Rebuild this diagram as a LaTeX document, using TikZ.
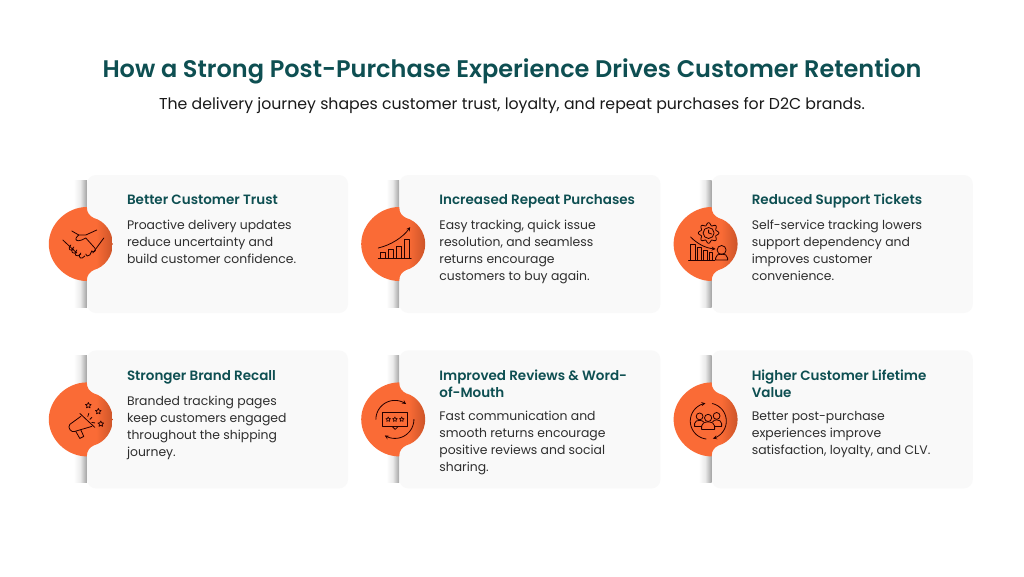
\documentclass[tikz,border=0pt]{standalone}
\usepackage{fontspec}
\setmainfont{Poppins}[BoldFont={Poppins SemiBold}]
\usetikzlibrary{shapes.geometric, arrows, positioning}
\definecolor{pagetitle}{HTML}{0E4F52}
\definecolor{cardfill}{HTML}{F9F9F9}
\definecolor{cardtext}{HTML}{2E2E2E}
\pgfdeclarehorizontalshading{blobshade}{100bp}{rgb(0bp)=(0.98,0.42,0.21);rgb(62bp)=(0.98,0.42,0.21);rgb(75bp)=(0.80,0.33,0.16);rgb(100bp)=(0.80,0.33,0.16)}
\pgfdeclarehorizontalshading{stripshade}{100bp}{rgb(0bp)=(1,1,1);rgb(25bp)=(1,1,1);rgb(50bp)=(0.92,0.92,0.92);rgb(75bp)=(0.64,0.64,0.64);rgb(100bp)=(0.64,0.64,0.64)}
\tikzstyle{card} = [rectangle, rounded corners=9pt, fill=cardfill, minimum width=261pt, minimum height=138pt, inner sep=0pt]
\tikzstyle{heading} = [inner sep=0pt, align=left, font=\fontsize{13.5}{17}\selectfont\bfseries, text=pagetitle, execute at begin node=\strut, execute at end node=\strut]
\tikzstyle{bodytext} = [inner sep=0pt, align=left, font=\fontsize{12.4}{17}\selectfont, text=cardtext, anchor=north west]
\tikzstyle{icon} = [black!85!red, line width=0.8pt, line join=round, line cap=round]
\tikzstyle{iconstar} = [star, star points=5, star point ratio=2.1, draw=black!85!red, line width=0.7pt, inner sep=0pt, minimum size=6pt]

\begin{document}
\begin{tikzpicture}[x=1pt, y=-1pt, >=stealth]

    \path [use as bounding box, fill=white] (0, 0) rectangle (1024, 576);

    \node (pagehead) [inner sep=0pt, font=\fontsize{24}{30}\selectfont\bfseries, text=pagetitle] at (512, 71) {How a Strong Post-Purchase Experience Drives Customer Retention};
    \node (pagesub) [inner sep=0pt, font=\fontsize{15.75}{20}\selectfont, text=black!90, below=13pt of pagehead] {The delivery journey shapes customer trust, loyalty, and repeat purchases for D2C brands.};

    \node (trustcard) [card] at (217.5, 244) {};
    \node (repeatcard) [card, right=51pt of trustcard] {};
    \node (supportcard) [card, right=51pt of repeatcard] {};
    \node (recallcard) [card, below=37pt of trustcard] {};
    \node (reviewcard) [card, right=51pt of recallcard] {};
    \node (valuecard) [card, right=51pt of reviewcard] {};

    % Shadow strip and orange blob on the left edge of each card
    \foreach \c in {trustcard, repeatcard, supportcard, recallcard, reviewcard, valuecard} {
        \begin{scope}[shift={(\c.west)}]
            \shade [shading=stripshade] (-13, -64) rectangle (0, 63);
            \shade [shading=blobshade] (0, -37) .. controls (-20, -37) and (-38, -20) .. (-38, 0)
                .. controls (-38, 20) and (-20, 37) .. (0, 37)
                .. controls (0, 31) and (3, 28) .. (7, 26)
                .. controls (18, 23) and (26, 12) .. (26, 0)
                .. controls (26, -12) and (18, -23) .. (7, -26)
                .. controls (3, -28) and (0, -31) .. (0, -37) -- cycle;
        \end{scope}
    }

    \node (trusthead) [heading, below right=18pt and 40pt of trustcard.north west] {Better Customer Trust};
    \node (trustbody) [below=10pt of trusthead.south west, bodytext] {Proactive delivery updates\\reduce uncertainty and\\build customer confidence.};

    \node (repeathead) [heading, below right=18pt and 40pt of repeatcard.north west] {Increased Repeat Purchases};
    \node (repeatbody) [below=10pt of repeathead.south west, bodytext] {Easy tracking, quick issue\\resolution, and seamless\\returns encourage\\customers to buy again.};

    \node (supporthead) [heading, below right=18pt and 40pt of supportcard.north west] {Reduced Support Tickets};
    \node (supportbody) [below=10pt of supporthead.south west, bodytext] {Self-service tracking lowers\\support dependency and\\improves customer\\convenience.};

    \node (recallhead) [heading, below right=18pt and 40pt of recallcard.north west] {Stronger Brand Recall};
    \node (recallbody) [below=10pt of recallhead.south west, bodytext] {Branded tracking pages\\keep customers engaged\\throughout the shipping\\journey.};

    \node (reviewhead) [heading, below right=20pt and 40pt of reviewcard.north west] {Improved Reviews \& Word-\\of-Mouth};
    \node (reviewbody) [below=8pt of reviewhead.south west, bodytext] {Fast communication and\\smooth returns encourage\\positive reviews and social\\sharing.};

    \node (valuehead) [heading, below right=20pt and 40pt of valuecard.north west] {Higher Customer Lifetime\\Value};
    \node (valuebody) [below=8pt of valuehead.south west, bodytext] {Better post-purchase\\experiences improve\\satisfaction, loyalty, and CLV.};

    % Handshake
    \begin{scope}[shift={(trustcard.west)}, icon]
        \draw (-24, -4) -- (-10, 9);
        \draw (17, -6) -- (6, 9);
        \draw (-15, -13) -- (-8, -9) -- (-1, -9) -- (10, -14);
        \draw (-8, -9) .. controls (-14, -4) and (-10, -2) .. (-5, -4) -- (-1, -6) -- (8, 4) .. controls (10, 7) and (7, 9) .. (5, 7);
        \draw (5, 7) -- (3, 11) .. controls (1, 13) and (-1, 12) .. (-1, 10);
        \draw (-16, 1) .. controls (-20, 5) and (-16, 8) .. (-13, 5);
        \draw (-13, 3) .. controls (-18, 8) and (-13, 11) .. (-10, 8);
        \draw (-10, 6) .. controls (-14, 11) and (-10, 14) .. (-6, 10);
        \draw (-6, 9) .. controls (-10, 14) and (-5, 16) .. (-2, 12);
    \end{scope}

    % Growth chart
    \begin{scope}[shift={(repeatcard.west)}, icon]
        \draw (-21, 14) -- (12, 14);
        \draw (-19, 14) rectangle (-14, 8.5);
        \draw (-11, 14) rectangle (-6, 5.5);
        \draw (-3, 14) rectangle (2, 2);
        \draw (5, 14) rectangle (10, -5);
        \draw [->] (-21, 4) .. controls (-8, 1) and (4, -7) .. (11, -17);
    \end{scope}

    % Gear, falling bars and person
    \begin{scope}[shift={(supportcard.west)}, icon]
        \draw plot [domain=0:360, samples=97, smooth] ({-3 + (9 + 1.3*cos(8*\x))*cos(\x)}, {-11 + (9 + 1.3*cos(8*\x))*sin(\x)}) -- cycle;
        \draw (-3, -11) circle (5.5pt);
        \draw (-3, -14) -- (-3, -11) -- (0, -10);
        \draw (-23, 16) -- (3, 16);
        \draw (-21, 16) rectangle (-16, 0);
        \draw (-14, 16) rectangle (-10, 3);
        \draw (-8, 16) rectangle (-4, 6);
        \draw (-2, 16) rectangle (1, 8);
        \draw [->] (-21, -7) .. controls (-14, 0) and (-6, 4) .. (4, 5);
        \draw (10, 6) circle (4.5pt);
        \draw (4, 16) -- (4, 14) .. controls (4, 11) and (7, 10) .. (10, 10) .. controls (13, 10) and (16, 11) .. (16, 14) -- (16, 16) -- cycle;
    \end{scope}

    % Megaphone and stars
    \begin{scope}[shift={(recallcard.west)}, icon]
        \draw (-7, -6) -- (8, 8);
        \draw (-6, -3) -- (-17, 5) .. controls (-20, 8) and (-15, 14) .. (-12, 12) -- (5, 7);
        \draw (-11, 12) -- (-7, 19) -- (-3, 17) -- (-6, 10.5);
        \draw (2, -6) -- (1, -3);
        \draw (5, -2) -- (3, 0);
        \draw (5, 3) -- (8, 3.5);
        \node (shoutstara) [iconstar] at (1.5, -14) {};
        \node (shoutstarb) [iconstar] at (11.5, -8) {};
        \node (shoutstarc) [iconstar] at (14, 4.5) {};
    \end{scope}

    % Rating bubble in a loop of two arrows
    \begin{scope}[shift={(reviewcard.west)}, icon]
        \draw (-17, -7) rectangle (8, 7);
        \draw (-7, 7) -- (-4, 10) -- (-1, 7);
        \draw [->] plot [domain=180:306, samples=30, smooth] ({-4.3 + 19*cos(\x)}, {19*sin(\x)});
        \draw [->] plot [domain=0:122, samples=30, smooth] ({-4.3 + 19*cos(\x)}, {19*sin(\x)});
        \node (ratestara) [iconstar, minimum size=5pt, line width=0.6pt] at (-11, 0) {};
        \node (ratestarb) [iconstar, minimum size=5pt, line width=0.6pt] at (-4.3, 0) {};
        \node (ratestarc) [iconstar, minimum size=5pt, line width=0.6pt] at (2.5, 0) {};
    \end{scope}

    % Three people in a loop of two arrows
    \begin{scope}[shift={(valuecard.west)}, icon]
        \draw [->] plot [domain=97:261, samples=30, smooth] ({-3.3 + 18*cos(\x)}, {1.7 + 18*sin(\x)});
        \draw [->] plot [domain=-77:75, samples=30, smooth] ({-3.3 + 18*cos(\x)}, {1.7 + 18*sin(\x)});
        \draw (-12, -3) circle (3.4pt);
        \draw (5, -3.5) circle (3.4pt);
        \draw (-3.5, -1.5) circle (3.6pt);
        \draw (-17, 6.5) -- (-17, 4) .. controls (-17, 1.5) and (-14, 1) .. (-12, 1) .. controls (-10, 1) and (-9, 1.5) .. (-8, 2.5);
        \draw (10, 6.5) -- (10, 4) .. controls (10, 1.5) and (7, 0.5) .. (5, 0.5) .. controls (3, 0.5) and (2, 1) .. (1, 2.5);
        \draw (-17, 6.5) -- (-10, 6.5);
        \draw (10, 6.5) -- (3, 6.5);
        \draw (-10, 10) -- (-10, 6.5) .. controls (-10, 4) and (-7, 2.5) .. (-3.5, 2.5) .. controls (0, 2.5) and (3, 4) .. (3, 6.5) -- (3, 10) -- cycle;
    \end{scope}

\end{tikzpicture}
\end{document}
